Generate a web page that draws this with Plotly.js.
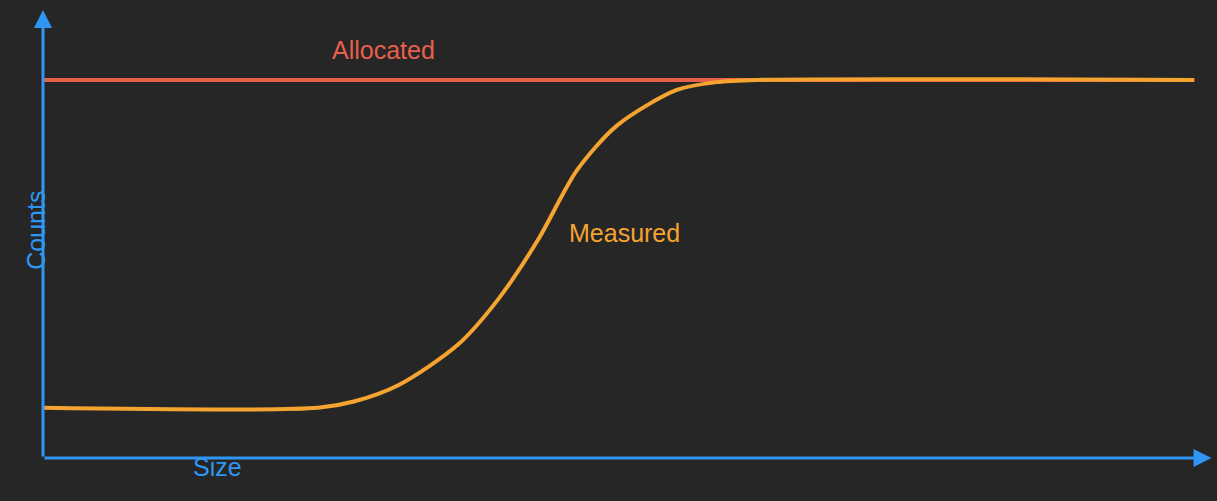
<!DOCTYPE html>
<html>
<head>
<meta charset="utf-8">
<script src="https://cdn.plot.ly/plotly-3.0.1.min.js"></script>
<style>html,body{margin:0;padding:0;background:#262626;}</style>
</head>
<body>
<div id="graph" style="width:1217px;height:501px;"></div>
<script>
// values (arbitrary units, 0..100)
var allocX = [0, 100];
var allocY = [84.4, 84.4];
var measX = [0, 23.9, 27, 30.9, 36, 39.5, 43, 46.4, 49.9, 55, 58.5, 62, 100];
var measY = [11.2, 11.2, 12.6, 16.3, 25.2, 35.3, 48.7, 64.3, 74.3, 82.1, 83.9, 84.4, 84.4];

var red = '#e8604c';
var orange = '#f5a430';
var blue = '#2f96f3';
var font = 'Liberation Sans, Arial, sans-serif';

var data = [
  { type: 'scatter', mode: 'lines', x: allocX, y: allocY,
    line: { color: red, width: 4 }, hoverinfo: 'skip' },
  { type: 'scatter', mode: 'lines', x: measX, y: measY,
    line: { color: orange, width: 4, shape: 'spline', smoothing: 0.8 }, hoverinfo: 'skip' }
];

function arrow(x0, y0, x1, y1) {
  return { xref: 'paper', yref: 'paper', axref: 'paper', ayref: 'paper',
    x: x1, y: y1, ax: x0, ay: y0, text: '', showarrow: true,
    arrowhead: 2, arrowsize: 1.2, arrowwidth: 3, arrowcolor: blue };
}

var layout = {
  width: 1217, height: 501,
  margin: { l: 43, r: 17, t: 10, b: 43 },
  paper_bgcolor: '#262626', plot_bgcolor: '#262626',
  showlegend: false,
  xaxis: { range: [0, 100.5], visible: false, fixedrange: true },
  yaxis: { range: [0, 100], visible: false, fixedrange: true },
  annotations: [
    arrow(0, 0, 0, 1.0),
    arrow(0, 0, 1.01, 0),
    { x: 29.6, y: 91, text: 'Allocated', showarrow: false,
      font: { family: font, size: 25, color: red } },
    { x: 50.5, y: 50.2, text: 'Measured', showarrow: false,
      font: { family: font, size: 25, color: orange } },
    { xref: 'paper', yref: 'paper', x: -0.02, y: 0.509, text: 'Counts',
      textangle: -90, showarrow: false, font: { family: font, size: 25, color: blue } },
    { xref: 'paper', yref: 'paper', x: 0.128, y: -0.056, text: 'Size',
      showarrow: false, font: { family: font, size: 25, color: blue } }
  ]
};

Plotly.newPlot('graph', data, layout, { displayModeBar: false, staticPlot: true });
</script>
</body>
</html>
